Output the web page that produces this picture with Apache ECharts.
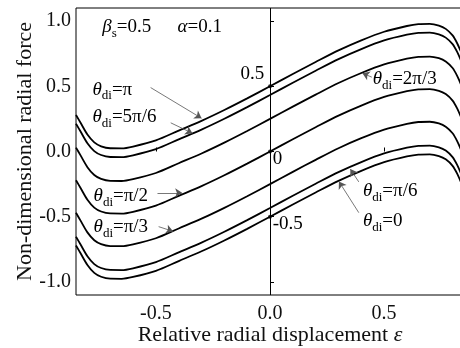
<!DOCTYPE html>
<html>
<head>
<meta charset="utf-8">
<script src="https://cdn.jsdelivr.net/npm/echarts@6/dist/echarts.min.js"></script>
<style>
html,body{margin:0;padding:0;background:#fff}
#c{width:460px;height:348px}
</style>
</head>
<body>
<div id="c"></div>
<script>
// Relative radial displacement (x)
const eps = [-0.85,-0.83,-0.8,-0.77,-0.74,-0.7,-0.65,-0.6,-0.5,-0.4,-0.3,-0.2,-0.1,0,
             0.1,0.2,0.3,0.4,0.5,0.6,0.65,0.7,0.74,0.77,0.8,0.82,0.84,0.85];

// Non-dimensional radial force, one curve per theta_di
const fPi    = [0.28,0.22,0.13,0.07,0.04,0.025,0.024,0.038,0.085,0.16,0.235,0.318,0.407,0.5,
                0.594,0.686,0.775,0.852,0.918,0.962,0.976,0.978,0.965,0.94,0.89,0.83,0.75,0.70];
const f5Pi6  = [0.213,0.153,0.063,0.003,-0.027,-0.042,-0.043,-0.029,0.018,0.093,0.168,0.251,0.34,0.433,
                0.527,0.619,0.708,0.785,0.851,0.895,0.909,0.911,0.898,0.873,0.823,0.763,0.683,0.633];
const f2Pi3  = [0.03,-0.03,-0.12,-0.18,-0.21,-0.225,-0.226,-0.212,-0.165,-0.09,-0.015,0.068,0.157,0.25,
                0.344,0.436,0.525,0.602,0.668,0.712,0.726,0.728,0.715,0.69,0.64,0.58,0.50,0.45];
const fPi2   = [-0.22,-0.28,-0.37,-0.43,-0.46,-0.475,-0.476,-0.462,-0.415,-0.34,-0.265,-0.182,-0.093,0,
                0.094,0.186,0.275,0.352,0.418,0.462,0.476,0.478,0.465,0.44,0.39,0.33,0.25,0.20];
const fPi3   = [-0.47,-0.53,-0.62,-0.68,-0.71,-0.725,-0.726,-0.712,-0.665,-0.59,-0.515,-0.432,-0.343,-0.25,
                -0.156,-0.064,0.025,0.102,0.168,0.212,0.226,0.228,0.215,0.19,0.14,0.08,0.00,-0.05];
const fPi6   = [-0.653,-0.713,-0.803,-0.863,-0.893,-0.908,-0.909,-0.895,-0.848,-0.773,-0.698,-0.615,-0.526,-0.433,
                -0.339,-0.247,-0.158,-0.081,-0.015,0.029,0.043,0.045,0.032,0.007,-0.043,-0.103,-0.183,-0.233];
const f0     = [-0.72,-0.78,-0.87,-0.93,-0.96,-0.975,-0.976,-0.962,-0.915,-0.84,-0.765,-0.682,-0.593,-0.5,
                -0.406,-0.314,-0.225,-0.148,-0.082,-0.038,-0.024,-0.022,-0.035,-0.06,-0.11,-0.17,-0.25,-0.30];

const curves = [fPi, f5Pi6, f2Pi3, fPi2, fPi3, fPi6, f0];

// Tick values
const xTicks = [-0.5, 0, 0.5];
const yTicks = [-1.0, -0.5, 0, 0.5, 1.0];

// Values marked on the eps = 0 line
const zeroMarks = [0.5, 0, -0.5];

const FONT = '"Liberation Serif", "Times New Roman", serif';

const chart = echarts.init(document.getElementById('c'), null, {renderer: 'canvas'});

const lineSeries = curves.map(function (vals) {
  return {
    type: 'line',
    data: eps.map(function (e, i) { return [e, vals[i]]; }),
    showSymbol: false,
    smooth: 0.3,
    lineStyle: {color: '#000', width: 1.8},
    silent: true,
    z: 3
  };
});

// Leader lines with arrow heads: [from, to] in data space
const leaders = [
  [[-0.523, 0.49], [-0.30, 0.255]],
  [[-0.435, 0.22], [-0.34, 0.14]],
  [[0.446, 0.57], [0.405, 0.60]],
  [[-0.493, -0.317], [-0.385, -0.317]],
  [[-0.488, -0.576], [-0.425, -0.612]],
  [[0.389, -0.233], [0.352, -0.135]],
  [[0.389, -0.469], [0.302, -0.23]]
];

lineSeries[0].markLine = {
  silent: true,
  animation: false,
  symbol: ['none', 'none'],
  label: {show: false},
  lineStyle: {color: '#000', width: 1, type: 'solid'},
  data: [{xAxis: 0}]
};

lineSeries.push({
  type: 'line',
  data: [],
  markLine: {
    silent: true,
    animation: false,
    symbol: ['none', 'arrow'],
    symbolSize: 7,
    label: {show: false},
    lineStyle: {color: '#555', width: 0.8, type: 'solid'},
    data: leaders.map(function (p) {
      return [{coord: p[0]}, {coord: p[1]}];
    })
  }
});

lineSeries.push({
  type: 'scatter',
  data: zeroMarks.map(function (v) { return [0, v]; }),
  symbol: 'circle',
  symbolSize: 4,
  itemStyle: {color: '#000'},
  silent: true,
  z: 5
});

const option = {
  animation: false,
  backgroundColor: '#fff',
  grid: {
    left: 76, top: 8, right: -4, bottom: 53,
    containLabel: false,
    outerBoundsMode: 'none',
    show: true, borderColor: '#000', borderWidth: 1, backgroundColor: 'transparent'
  },
  xAxis: {
    type: 'value',
    min: -0.85, max: 0.85,
    name: '{n|Relative radial displacement }{i|ε}',
    nameLocation: 'middle',
    nameGap: 29,
    nameMoveOverlap: false,
    nameTextStyle: {
      fontFamily: FONT, fontSize: 22, color: '#111',
      rich: {
        n: {fontFamily: FONT, fontSize: 22, color: '#111'},
        i: {fontFamily: FONT, fontSize: 22, color: '#111', fontStyle: 'italic'}
      }
    },
    axisLine: {show: false},
    splitLine: {show: false},
    axisTick: {show: true, inside: true, length: 4, lineStyle: {color: '#000'}, customValues: xTicks},
    axisLabel: {
      fontFamily: FONT, fontSize: 20, color: '#111', margin: 9,
      customValues: xTicks,
      formatter: function (v) { return v.toFixed(1); }
    }
  },
  yAxis: {
    type: 'value',
    min: -1.1, max: 1.1,
    name: 'Non-dimensional radial force',
    nameLocation: 'middle',
    nameGap: 40,
    nameMoveOverlap: false,
    nameTextStyle: {fontFamily: FONT, fontSize: 22, color: '#111'},
    axisLine: {show: false},
    splitLine: {show: false},
    axisTick: {show: true, inside: true, length: 4, lineStyle: {color: '#000'}, customValues: yTicks},
    axisLabel: {
      fontFamily: FONT, fontSize: 20, color: '#111', margin: 5,
      customValues: yTicks,
      formatter: function (v) { return v.toFixed(1); }
    }
  },
  series: lineSeries
};

chart.setOption(option);

// Text annotations placed in data space; subscripts drop below the baseline
const rich = {
  i: {fontFamily: FONT, fontSize: 19, fontStyle: 'italic', color: '#111', lineHeight: 20, verticalAlign: 'top'},
  n: {fontFamily: FONT, fontSize: 19, color: '#111', lineHeight: 20, verticalAlign: 'top'},
  s: {fontFamily: FONT, fontSize: 13, color: '#111', lineHeight: 22, verticalAlign: 'bottom'}
};

function theta(rest) { return '{i|θ}{s|di}{n|=' + rest + '}'; }

const notes = [
  {at: [-0.735, 0.947], text: '{i|β}{s|s}{n|=0.5}', align: 'left'},
  {at: [-0.405, 0.947], text: '{i|α}{n|=0.1}', align: 'left'},
  {at: [-0.778, 0.471], text: theta('π'), align: 'left'},
  {at: [-0.778, 0.26], text: theta('5π/6'), align: 'left'},
  {at: [0.45, 0.55], text: theta('2π/3'), align: 'left'},
  {at: [-0.773, -0.347], text: theta('π/2'), align: 'left'},
  {at: [-0.773, -0.584], text: theta('π/3'), align: 'left'},
  {at: [0.407, -0.31], text: theta('π/6'), align: 'left'},
  {at: [0.407, -0.538], text: theta('0'), align: 'left'},
  {at: [-0.025, 0.59], text: '{n|0.5}', align: 'right'},
  {at: [0.012, -0.065], text: '{n|0}', align: 'left'},
  {at: [0.012, -0.56], text: '{n|-0.5}', align: 'left'}
];

chart.setOption({
  graphic: notes.map(function (n) {
    const p = chart.convertToPixel({gridIndex: 0}, n.at);
    return {
      type: 'text',
      x: p[0], y: p[1] - 10,
      silent: true,
      z: 10,
      style: {
        text: n.text,
        rich: rich,
        align: n.align,
        verticalAlign: 'top'
      }
    };
  })
});
</script>
</body>
</html>
